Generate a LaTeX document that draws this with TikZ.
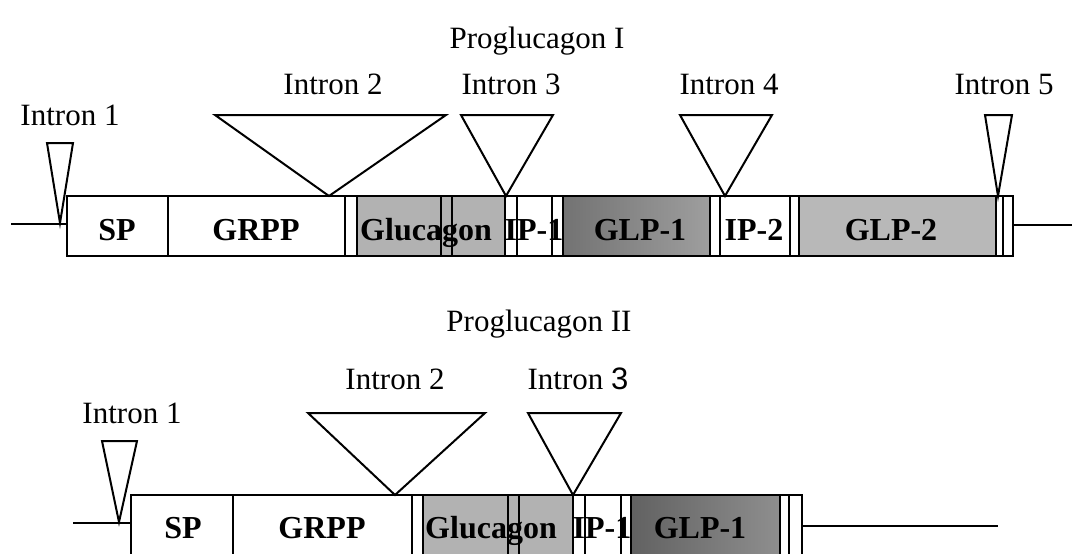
\documentclass[tikz,border=0pt]{standalone}
\usepackage{fontspec}
\setmainfont{Liberation Serif}
\setsansfont{Liberation Sans}
\usepackage{xcolor}
\usetikzlibrary{calc}
\definecolor{glucfill}{gray}{0.70}
\definecolor{glpdark}{gray}{0.45}
\definecolor{glplight}{gray}{0.62}
\definecolor{glptwo}{gray}{0.72}
\newcommand{\lblsize}{\fontsize{15.5}{18}\selectfont}
\newcommand{\exsize}{\fontsize{16}{19}\selectfont}
\tikzset{
  seg/.style={draw=black, line width=0.9pt},
  intr/.style={draw=black, line width=1pt, line join=miter},
  lbl/.style={font=\lblsize, inner sep=0pt, anchor=base},
  exlbl/.style={font=\exsize\bfseries, inner sep=0pt, anchor=base},
}
% triangle of one intron: left x, right x, top y, tip x, tip y
\newcommand{\intron}[5]{%
  \draw[intr] (#1,#3) -- (#2,#3) -- (#4,#5) -- cycle;}
% upright lines between the exon pieces: top y, bottom y, list of x
\newcommand{\cuts}[3]{%
  \foreach \x in {#3} {\draw[seg] (\x,#1) -- (\x,#2);}}

\begin{document}
\begin{tikzpicture}[x=0.5pt, y=-0.5pt]
  \useasboundingbox (0,0) rectangle (1077,553);
  \clip (0,0) rectangle (1077,553);
  % proglucagon I
  \node[lbl] (titleI) at (537,48) {Proglucagon I};
  \fill[glucfill] (357,196) rectangle (505,256);
  \shade[left color=glpdark, right color=glplight] (563,196) rectangle (710,256);
  \fill[glptwo] (799,196) rectangle (996,256);
  \draw[seg] (67,196) rectangle (1013,256);
  \cuts{196}{256}{168,345,357,441,452,505,517,552,563,710,720,790,799,996,1003}
  \coordinate (endIl) at (11,224);
  \coordinate (boxIl) at (67,224);
  \coordinate (boxIr) at (1013,225);
  \coordinate (endIr) at (1072,225);
  \draw[seg] (endIl) -- (boxIl);
  \draw[seg] (boxIr) -- (endIr);
  \node[exlbl] (spI) at (117,240) {SP};
  \node[exlbl] (grppI) at (256,240) {GRPP};
  \node[exlbl] (glucI) at (426,240) {Glucagon};
  \node[exlbl] (ipaI) at (534,240) {IP-1};
  \node[exlbl] (glpaI) at (640,240) {GLP-1};
  \node[exlbl] (ipbI) at (754,240) {IP-2};
  \node[exlbl] (glpbI) at (891,240) {GLP-2};
  % introns of I
  \intron{47}{73}{143}{60}{223}
  \intron{215}{446}{115}{329}{196}
  \intron{461}{553}{115}{506}{196}
  \intron{680}{772}{115}{725}{196}
  \intron{985}{1012}{115}{998}{196}
  \node[lbl] (inaI) at (70,125) {Intron 1};
  \node[lbl] (inbI) at (333,94) {Intron 2};
  \node[lbl] (incI) at (511,94) {Intron 3};
  \node[lbl] (indI) at (729,94) {Intron 4};
  \node[lbl] (ineI) at (1004,94) {Intron 5};
  % proglucagon II
  \node[lbl] (titleII) at (539,331) {Proglucagon II};
  \fill[glucfill] (423,495) rectangle (573,556);
  \shade[left color=glpdark!85!black, right color=glplight!90!black] (631,495) rectangle (780,556);
  \draw[seg] (131,495) rectangle (802,556);
  \cuts{495}{556}{233,412,423,508,519,573,585,621,631,780,789}
  \coordinate (endIIl) at (73,523);
  \coordinate (boxIIl) at (131,523);
  \coordinate (boxIIr) at (802,526);
  \coordinate (endIIr) at (998,526);
  \draw[seg] (endIIl) -- (boxIIl);
  \draw[seg] (boxIIr) -- (endIIr);
  \node[exlbl] (spII) at (183,538) {SP};
  \node[exlbl] (grppII) at (322,538) {GRPP};
  \node[exlbl] (glucII) at (491,538) {Glucagon};
  \node[exlbl] (ipaII) at (602,538) {IP-1};
  \node[exlbl] (glpaII) at (700,538) {GLP-1};
  % introns of II
  \intron{102}{137}{441}{119}{522}
  \intron{308}{485}{413}{395}{495}
  \intron{528}{621}{413}{573}{495}
  \node[lbl] (inaII) at (132,423) {Intron 1};
  \node[lbl] (inbII) at (395,389) {Intron 2};
  \node[lbl] (incII) at (578,389) {Intron {\sffamily 3}};
\end{tikzpicture}
\end{document}
